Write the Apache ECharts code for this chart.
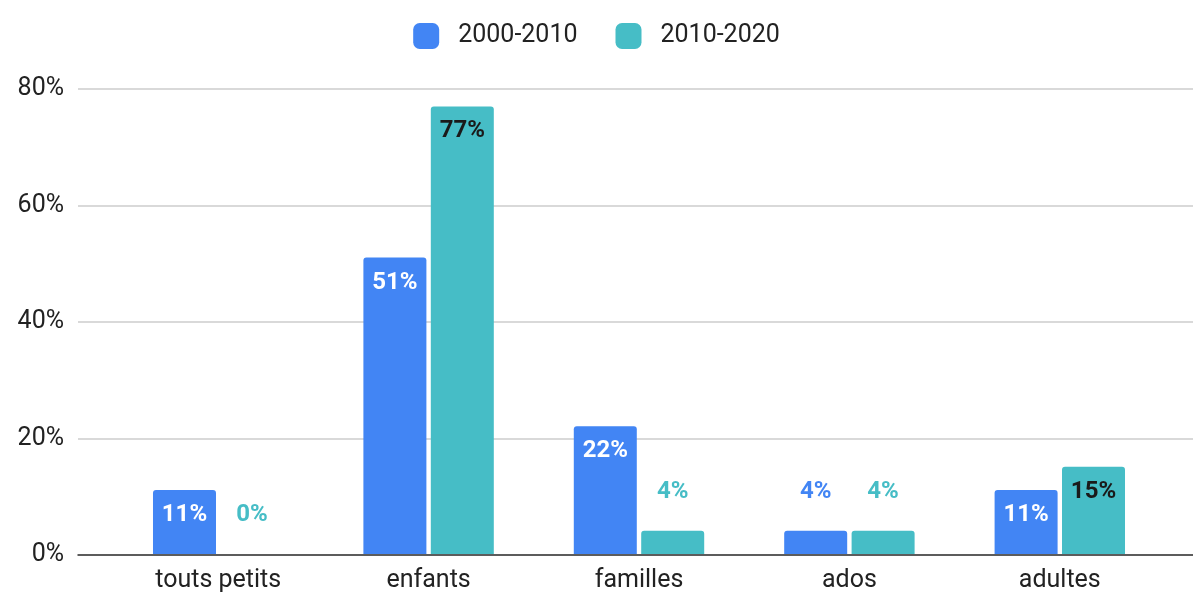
<!DOCTYPE html>
<html>
<head>
<meta charset="utf-8">
<script src="https://cdn.jsdelivr.net/npm/echarts@6/dist/echarts.min.js"></script>
<style>
  html, body { margin: 0; padding: 0; background: #fff; }
  #chart { width: 1193px; height: 593px; }
</style>
</head>
<body>
<div id="chart"></div>
<script>
var categories = ['touts petits', 'enfants', 'familles', 'ados', 'adultes'];
var seriesNames = ['2000-2010', '2010-2020'];
var values2000 = [11, 51, 22, 4, 11];
var values2010 = [0, 77, 4, 4, 15];
var yTicks = [0, 20, 40, 60, 80];

var colors = ['#4285F4', '#46BDC6'];
var insideColors = ['#ffffff', '#1a1a1a'];

// small bars get their label above, in the series colour
function makeData(vals, idx) {
  return vals.map(function (v) {
    var inside = v >= 10;
    return {
      value: v,
      label: {
        position: inside ? 'insideTop' : 'top',
        distance: inside ? 13 : 27,
        color: inside ? insideColors[idx] : colors[idx]
      }
    };
  });
}

var chart = echarts.init(document.getElementById('chart'));

var option = {
  animation: false,
  textStyle: { fontFamily: 'Roboto' },
  legend: {
    top: 18,
    left: 'center',
    itemWidth: 26,
    itemHeight: 26,
    itemGap: 38,
    icon: 'roundRect',
    textStyle: { fontSize: 25, color: '#222', padding: [0, 0, 0, 14] },
    data: seriesNames
  },
  grid: [
    { left: 78, right: 0, top: 89, bottom: 38 },
    { left: 113, right: 28, top: 89, bottom: 38 }
  ],
  xAxis: [
    {
      gridIndex: 0,
      type: 'category',
      data: categories,
      axisLabel: { show: false },
      axisTick: { show: false },
      axisLine: { lineStyle: { color: '#333', width: 1.5 } }
    },
    {
      gridIndex: 1,
      type: 'category',
      data: categories,
      axisTick: { show: false },
      axisLine: { show: false },
      axisLabel: { fontSize: 25, color: '#222', margin: 14 }
    }
  ],
  yAxis: [
    {
      gridIndex: 0,
      type: 'value',
      min: yTicks[0],
      max: yTicks[yTicks.length - 1],
      interval: 20,
      axisLabel: { formatter: '{value}%', fontSize: 25, color: '#222', margin: 14 },
      splitLine: { lineStyle: { color: '#cccccc', width: 1.5 } },
      axisLine: { show: false },
      axisTick: { show: false }
    },
    {
      gridIndex: 1,
      type: 'value',
      min: yTicks[0],
      max: yTicks[yTicks.length - 1],
      interval: 20,
      show: false,
      splitLine: { show: false }
    }
  ],
  series: [
    {
      name: seriesNames[0],
      type: 'bar',
      xAxisIndex: 1,
      yAxisIndex: 1,
      barWidth: 63,
      barGap: '7%',
      itemStyle: { color: colors[0], borderRadius: [3, 3, 0, 0] },
      label: { show: true, formatter: '{c}%', fontSize: 24, fontWeight: 'bold' },
      data: makeData(values2000, 0)
    },
    {
      name: seriesNames[1],
      type: 'bar',
      xAxisIndex: 1,
      yAxisIndex: 1,
      barWidth: 63,
      barGap: '7%',
      itemStyle: { color: colors[1], borderRadius: [3, 3, 0, 0] },
      label: { show: true, formatter: '{c}%', fontSize: 24, fontWeight: 'bold' },
      data: makeData(values2010, 1)
    }
  ]
};

chart.setOption(option);
</script>
</body>
</html>
